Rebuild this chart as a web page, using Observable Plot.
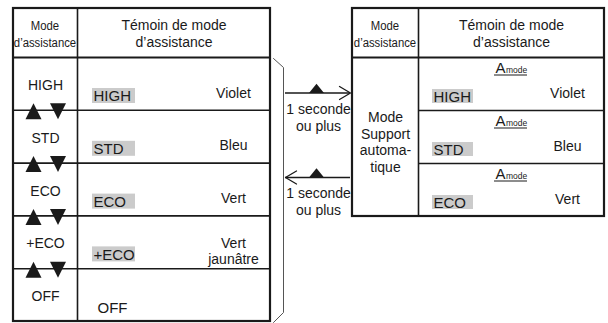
<!DOCTYPE html>
<html><head><meta charset="utf-8">
<script src="https://cdn.jsdelivr.net/npm/d3@7"></script>
<script src="https://cdn.jsdelivr.net/npm/@observablehq/plot@0.6"></script>
<style>
html,body{margin:0;padding:0;background:#fff;}
.narrow-l{transform-box:view-box;transform-origin:45px 33px;transform:scaleX(0.84);}
.narrow-r{transform-box:view-box;transform-origin:385px 33px;transform:scaleX(0.84);}
</style>
</head><body><div id="chart"></div>
<script>
// ---- content ----
const modes = ["HIGH", "STD", "ECO", "+ECO", "OFF"];
const lcdLabels = ["HIGH", "STD", "ECO", "+ECO", "OFF"];
const lcdShaded = [true, true, true, true, false];
const ledColors = ["Violet", "Bleu", "Vert", "Vert\njaunâtre", ""];
const autoLcd = ["HIGH", "STD", "ECO"];
const autoColors = ["Violet", "Bleu", "Vert"];
const badgeBig = "A";
const badgeSmall = "mode";
const headerMode = "Mode\nd’assistance";
const headerTemoin = "Témoin de mode\nd’assistance";
const autoLabel = "Mode\nSupport\nautoma-\ntique";
const holdLabel = "1 seconde\nou plus";
const arrowDirs = ["right", "left"];

// ---- layout ----
const L = {x0: 13, x1: 77, x2: 270, top: 8, head: 57, row: 52.8};
const R = {x0: 352, x1: 418, x2: 604, top: 8, head: 57, row: 53};
const ink = "#1a1a1a";
const font = "Liberation Sans, Arial, sans-serif";

const leftRows = modes.map((m, i) => ({
  mode: m, lcd: lcdLabels[i], shaded: lcdShaded[i], color: ledColors[i],
  top: L.head + i * L.row, bottom: L.head + (i + 1) * L.row
}));
const rightRows = autoLcd.map((m, i) => ({
  lcd: m, color: autoColors[i],
  top: R.head + i * R.row, bottom: R.head + (i + 1) * R.row
}));
const leftBounds = leftRows.slice(0, -1).map(d => d.bottom);
const rightBounds = rightRows.slice(0, -1).map(d => d.bottom);
const arrowYs = [92.5, 177];
const arrows = arrowDirs.map((dir, i) => ({dir, y: arrowYs[i], x1: 285, x2: 350}));
const chevrons = arrows.flatMap((a, i) => {
  const tip = a.dir === "right" ? a.x2 : a.x1;
  const back = a.dir === "right" ? a.x2 - 11 : a.x1 + 11;
  return [{k: i, x: back, y: a.y - 6.5}, {k: i, x: tip, y: a.y}, {k: i, x: back, y: a.y + 6.5}];
});
const bracket = [{x: 273, y: 58}, {x: 283, y: 67}, {x: 283, y: 312}, {x: 273, y: 322}];

const triUp = {draw(ctx, size) { const s = Math.sqrt(size) / 2; ctx.moveTo(0, -s); ctx.lineTo(s, s); ctx.lineTo(-s, s); ctx.closePath(); }};
const triDown = {draw(ctx, size) { const s = Math.sqrt(size) / 2; ctx.moveTo(0, s); ctx.lineTo(s, -s); ctx.lineTo(-s, -s); ctx.closePath(); }};
const triFlat = {draw(ctx, size) { const s = Math.sqrt(size) / 2; const h = s * 0.62; ctx.moveTo(0, -h); ctx.lineTo(s, h); ctx.lineTo(-s, h); ctx.closePath(); }};
const rFor = w => w / Math.sqrt(Math.PI);

const c = (v) => () => v;

const plot = Plot.plot({
  width: 608, height: 323, margin: 0,
  x: {domain: [0, 608], range: [0, 608], axis: null},
  y: {domain: [0, 323], range: [0, 323], axis: null},
  style: {fontFamily: font, background: "#fff", color: ink},
  marks: [
    // LCD shaded boxes
    Plot.rect(leftRows.filter(d => d.shaded), {x1: c(92), x2: c(135), y1: d => d.top + 31, y2: d => d.top + 46, fill: "#cbcbcb"}),
    Plot.rect(rightRows, {x1: c(432), x2: c(473), y1: d => d.top + 32, y2: d => d.top + 46, fill: "#cbcbcb"}),
    // left table grid
    Plot.ruleY(leftBounds, {y: d => d, x1: c(L.x0), x2: c(L.x2), stroke: ink, strokeWidth: 1.6}),
    Plot.ruleY([L.head], {y: d => d, x1: c(L.x0), x2: c(L.x2), stroke: ink, strokeWidth: 2.2}),
    Plot.ruleX([L.x1], {x: d => d, y1: c(L.top), y2: c(leftRows[leftRows.length - 1].bottom), stroke: ink, strokeWidth: 1.6}),
    Plot.rect([L], {x1: d => d.x0, x2: d => d.x2, y1: d => d.top, y2: d => leftRows[leftRows.length - 1].bottom, fill: "none", stroke: ink, strokeWidth: 2.2}),
    // right table grid
    Plot.ruleY(rightBounds, {y: d => d, x1: c(R.x1), x2: c(R.x2), stroke: ink, strokeWidth: 1.6}),
    Plot.ruleY([R.head], {y: d => d, x1: c(R.x0), x2: c(R.x2), stroke: ink, strokeWidth: 2.2}),
    Plot.ruleX([R.x1], {x: d => d, y1: c(R.top), y2: c(rightRows[rightRows.length - 1].bottom), stroke: ink, strokeWidth: 1.6}),
    Plot.rect([R], {x1: d => d.x0, x2: d => d.x2, y1: d => d.top, y2: d => rightRows[rightRows.length - 1].bottom, fill: "none", stroke: ink, strokeWidth: 2.2}),
    // bracket
    Plot.line(bracket, {x: "x", y: "y", stroke: "#555", strokeWidth: 1}),
    // headers
    Plot.text([headerMode], {x: c((L.x0 + L.x1) / 2), y: c(33), text: d => d, fontSize: 13.5, lineHeight: 1.26, fill: ink, className: "narrow-l"}),
    Plot.text([headerTemoin], {x: c((L.x1 + L.x2) / 2), y: c(33), text: d => d, fontSize: 14, lineHeight: 1.2, fill: ink}),
    Plot.text([headerMode], {x: c((R.x0 + R.x1) / 2), y: c(33), text: d => d, fontSize: 13.5, lineHeight: 1.26, fill: ink, className: "narrow-r"}),
    Plot.text([headerTemoin], {x: c((R.x1 + R.x2) / 2), y: c(33), text: d => d, fontSize: 14, lineHeight: 1.2, fill: ink}),
    // left column labels
    Plot.text(leftRows, {x: c(45), y: d => d.top + 28, text: "mode", fontSize: 14, fill: ink}),
    Plot.dot(leftBounds, {x: c(33), y: d => d + 1, symbol: triUp, r: rFor(16), fill: ink, stroke: null}),
    Plot.dot(leftBounds, {x: c(57.5), y: d => d + 1, symbol: triDown, r: rFor(16), fill: ink, stroke: null}),
    // LCD text
    Plot.text(leftRows, {x: d => d.shaded ? 93 : 97, y: d => d.top + 39, text: "lcd", textAnchor: "start", fontSize: 15, fill: ink}),
    Plot.text(rightRows, {x: c(433), y: d => d.top + 39.5, text: "lcd", textAnchor: "start", fontSize: 15, fill: ink}),
    // LED colour names
    Plot.text(leftRows, {x: c(233), y: d => d.top + 35, text: "color", fontSize: 14, lineHeight: 1.15, fill: ink}),
    Plot.text(rightRows, {x: c(567), y: d => d.top + 36, text: "color", fontSize: 14, fill: ink}),
    // A mode badges
    Plot.text(rightRows, {x: c(505), y: d => d.top + 15.5 - 5, text: c(badgeBig), textAnchor: "end", fontSize: 15, fill: ink}),
    Plot.text(rightRows, {x: c(505.5), y: d => d.top + 15.5 - 2.8, text: c(badgeSmall), textAnchor: "start", fontSize: 8.5, fill: ink}),
    Plot.ruleY(rightRows, {y: d => d.top + 17.5, x1: c(494), x2: c(527), stroke: ink, strokeWidth: 1}),
    // auto mode label
    Plot.text([autoLabel], {x: c((R.x0 + R.x1) / 2), y: c(141), text: d => d, fontSize: 14, lineHeight: 1.18, fill: ink}),
    // hold arrows
    Plot.ruleY(arrows, {y: "y", x1: "x1", x2: "x2", stroke: ink, strokeWidth: 1.3}),
    Plot.line(chevrons, {x: "x", y: "y", z: "k", stroke: ink, strokeWidth: 1.3}),
    Plot.dot(arrows, {x: c(316), y: d => d.y - 4.6, symbol: triFlat, r: rFor(15), fill: ink, stroke: null}),
    Plot.text(arrows, {x: c(318), y: d => d.y + 24, text: c(holdLabel), fontSize: 14, lineHeight: 1.2, fill: ink})
  ]
});
document.getElementById("chart").appendChild(plot);
</script>
</body></html>
